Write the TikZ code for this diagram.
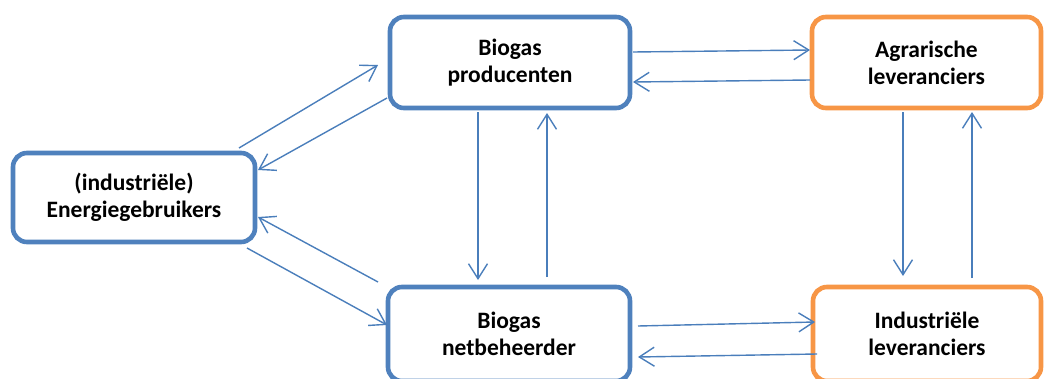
\documentclass[tikz,border=0pt]{standalone}
\usepackage{fontspec}
\setmainfont{Carlito}
\usetikzlibrary{arrows.meta,calc}
\definecolor{boxblue}{HTML}{4F81BD}
\definecolor{boxorange}{HTML}{F79646}
\definecolor{arrblue}{HTML}{4A7EBB}
\tikzset{
  entity/.style={draw=boxblue, line width=4.6pt, rounded corners=14pt, fill=white,
    align=center, font=\fontsize{23.5}{27}\selectfont\bfseries, inner sep=0pt},
  supplier/.style={entity, draw=boxorange},
  arr/.style={draw=arrblue, line width=1.4pt, -{Straight Barb[length=15pt,width=19pt,line width=1.4pt]}}
}
\begin{document}
\begin{tikzpicture}[x=1pt,y=-1pt]
\useasboundingbox (0,0) rectangle (1044,378);
\clip (0,0) rectangle (1044,378);
\node[entity, minimum width=240pt, minimum height=91pt] (P) at (510,62.5) {Biogas\\producenten};
\node[supplier, minimum width=229pt, minimum height=91pt] (A) at (926.5,62.5) {Agrarische\\leveranciers};
\node[entity, minimum width=242pt, minimum height=89pt] (E) at (134,197.5) {(industriële)\\Energiegebruikers};
\node[entity, minimum width=242pt, minimum height=94pt] (N) at (509,334) {Biogas\\netbeheerder};
\node[supplier, minimum width=228pt, minimum height=94pt] (I) at (927,334) {Industriële\\leveranciers};
% horizontal
\draw[arr] ($(P)+(123,-10.5)$) -- ($(A)+(-116.5,-12.5)$);
\draw[arr] ($(A)+(-116.5,17.5)$) -- ($(P)+(123,19.5)$);
\draw[arr] ($(N)+(129,-8)$) -- ($(I)+(-112,-12)$);
\draw[arr] ($(I)+(-110,20)$) -- ($(N)+(129,23)$);
% vertical
\draw[arr] ($(P)+(-32,49.5)$) -- ($(N)+(-31,-54)$);
\draw[arr] ($(N)+(38,-57)$) -- ($(P)+(37,50.5)$);
\draw[arr] ($(A)+(-23.5,49.5)$) -- ($(I)+(-24,-58)$);
\draw[arr] ($(I)+(45,-56)$) -- ($(A)+(45.5,49.5)$);
% diagonal
\draw[arr] ($(E)+(105,-49.5)$) -- ($(P)+(-132,2.5)$);
\draw[arr] ($(P)+(-123,35.5)$) -- ($(E)+(124,-27.5)$);
\draw[arr] ($(N)+(-131,-52)$) -- ($(E)+(124,19.5)$);
\draw[arr] ($(E)+(113,50.5)$) -- ($(N)+(-122,-9)$);
\end{tikzpicture}
\end{document}
